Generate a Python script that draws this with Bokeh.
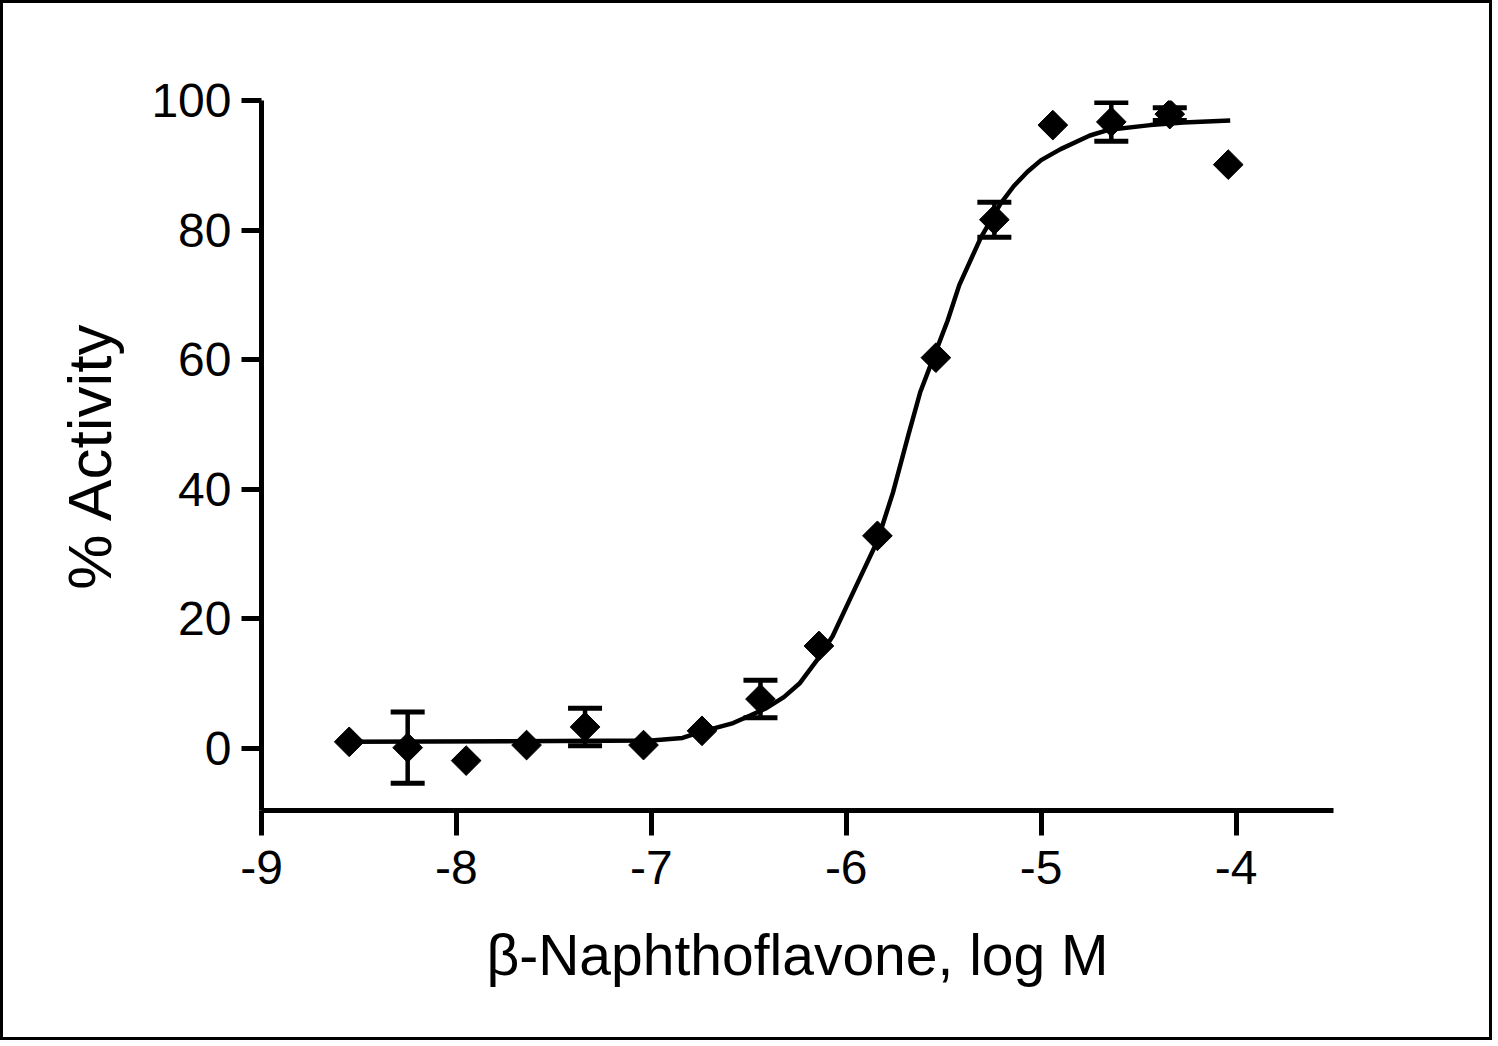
import math
from bokeh.plotting import figure
from bokeh.models import ColumnDataSource, Whisker, TeeHead, Range1d, FixedTicker
from bokeh.embed import file_html
from bokeh.resources import INLINE

# ---- data ----
log_conc = [-8.55, -8.25, -7.95, -7.64, -7.34, -7.04, -6.74, -6.44,
            -6.14, -5.84, -5.54, -5.24, -4.94, -4.64, -4.34, -4.04]
activity = [1.0, 0.1, -1.9, 0.5, 3.3, 0.5, 2.7, 7.6,
            15.8, 32.8, 60.3, 81.6, 96.2, 96.7, 97.9, 90.1]

err_x = [-8.25, -7.34, -6.44, -5.24, -4.64, -4.34]
err_mean = [0.1, 3.3, 7.6, 81.6, 96.7, 97.9]
err_sem = [5.5, 2.9, 2.9, 2.7, 3.0, 1.0]

fit_x = [-8.55, -7.0, -6.84, -6.75, -6.58, -6.49, -6.41, -6.32, -6.24, -6.15,
         -6.07, -5.95, -5.84, -5.76, -5.72, -5.68, -5.62, -5.55, -5.48, -5.42,
         -5.31, -5.21, -5.14, -5.07, -5.00, -4.90, -4.75, -4.65, -4.44, -4.27, -4.03]
fit_y = [1.0, 1.2, 1.6, 2.5, 3.9, 5.1, 6.2, 7.9, 10.0, 13.6,
         17.3, 25.0, 32.0, 39.5, 44.0, 48.5, 55.0, 60.5, 66.0, 71.5,
         78.8, 84.0, 86.8, 89.0, 90.8, 92.5, 94.6, 95.5, 96.2, 96.6, 96.9]

x_ticks = [-9, -8, -7, -6, -5, -4]
y_ticks = [0, 20, 40, 60, 80, 100]

FONT = "Liberation Sans"
W, H = 1492, 1040

p = figure(width=W, height=H, output_backend="svg", toolbar_location=None,
           x_range=Range1d(-9, -3.5), y_range=Range1d(-9.6, 100),
           min_border_left=258, min_border_right=162,
           min_border_top=97, min_border_bottom=233)
p.outline_line_color = None
p.xgrid.visible = False
p.ygrid.visible = False
p.background_fill_color = "white"
p.border_fill_color = "white"
p.styles = {"border": "3px solid black"}

for ax in (p.xaxis[0], p.yaxis[0]):
    ax.axis_line_width = 5
    ax.axis_line_color = "black"
    ax.major_tick_line_width = 5
    ax.major_tick_line_color = "black"
    ax.major_tick_in = 0
    ax.minor_tick_out = 0
    ax.minor_tick_in = 0
    ax.major_label_text_font = FONT
    ax.major_label_text_font_size = "48px"
    ax.major_label_text_color = "black"
    ax.axis_label_text_font = FONT
    ax.axis_label_text_font_style = "normal"
    ax.axis_label_text_color = "black"

p.xaxis.ticker = FixedTicker(ticks=x_ticks)
p.yaxis.ticker = FixedTicker(ticks=y_ticks)
p.xaxis.major_label_overrides = {t: str(t) for t in x_ticks}
p.yaxis.major_label_overrides = {t: str(t) for t in y_ticks}
p.xaxis.major_tick_out = 25
p.yaxis.major_tick_out = 20
p.xaxis.major_label_standoff = 15
p.yaxis.major_label_standoff = 10
p.xaxis.axis_label = "β-Naphthoflavone, log M"
p.yaxis.axis_label = "% Activity"
p.xaxis.axis_label_text_font_size = "57px"
p.yaxis.axis_label_text_font_size = "62px"
p.xaxis.axis_label_standoff = 36
p.yaxis.axis_label_standoff = 24

# fitted curve
p.line(fit_x, fit_y, line_color="black", line_width=4.5)

# error bars
esrc = ColumnDataSource(dict(x=err_x,
                             upper=[m + e for m, e in zip(err_mean, err_sem)],
                             lower=[m - e for m, e in zip(err_mean, err_sem)]))
w = Whisker(base="x", upper="upper", lower="lower", source=esrc, dimension="height",
            line_color="black", line_width=4.5,
            upper_head=TeeHead(size=34, line_width=5, line_color="black"),
            lower_head=TeeHead(size=34, line_width=5, line_color="black"))
w.level = "glyph"
p.add_layout(w)

# data points (diamonds)
src = ColumnDataSource(dict(x=log_conc, y=activity))
p.scatter("x", "y", source=src, marker="square", size=21, angle=math.pi / 4,
          fill_color="black", line_color="black", line_width=1)

open("out.html", "w").write(file_html(p, INLINE))
